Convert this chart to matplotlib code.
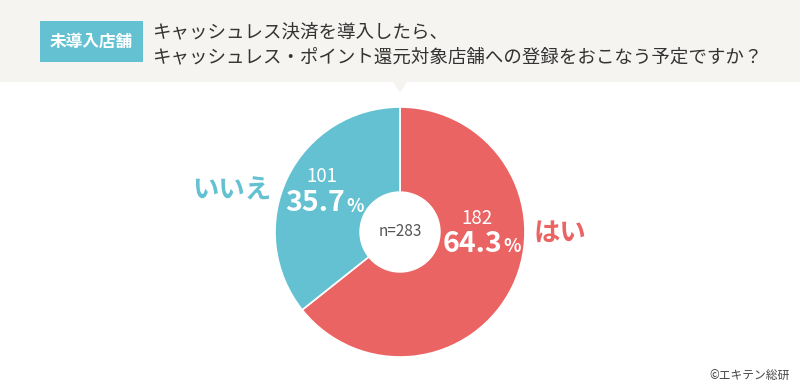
import matplotlib.pyplot as plt
from matplotlib.patches import Rectangle, Polygon, Circle

plt.rcParams['font.family'] = ['Noto Sans CJK JP', 'DejaVu Sans']

labels = ['はい', 'いいえ']
counts = [182, 101]
shares = [64.3, 35.7]
colors = ['#eb6464', '#64c1d1']
total = 283

badge = '未導入店舗'
title_lines = ['キャッシュレス決済を導入したら、',
               'キャッシュレス・ポイント還元対象店舗への登録をおこなう予定ですか？']
credit = '©エキテン総研'

W, H = 800, 384
fig = plt.figure(figsize=(W / 100, H / 100), dpi=100)
ax = fig.add_axes([0, 0, 1, 1])

# header band
ax.add_patch(Rectangle((0, H - 82), W, 82, color='#f5f4f1', lw=0, zorder=0))
ax.add_patch(Polygon([[393, H - 82], [407, H - 82], [400, H - 93]],
                     closed=True, color='#f5f4f1', lw=0, zorder=0))
ax.add_patch(Rectangle((40, H - 62), 103, 41, color=colors[1], lw=0, zorder=1))
ax.text(91.5, H - 41.5, badge, color='white', fontsize=12, fontweight='bold',
        ha='center', va='center', zorder=2)
ax.text(152, H - 32, title_lines[0], color='#333333', fontsize=13.3,
        ha='left', va='center')
ax.text(152, H - 57, title_lines[1], color='#333333', fontsize=13.3,
        ha='left', va='center')

# donut
cx, cy, r = 400, H - 232, 125
ax.pie(shares, colors=colors, startangle=90, counterclock=False,
       center=(cx, cy), radius=r, frame=True,
       wedgeprops=dict(linewidth=1.2, edgecolor='white'))
ax.add_patch(Circle((cx, cy), 40, color='white', zorder=3))
ax.set_xlim(0, W)
ax.set_ylim(0, H)
ax.set_aspect('equal')
ax.axis('off')
ax.text(cx, cy, f'n={total}', color='#555555', fontsize=11,
        ha='center', va='center', zorder=4)

# value labels
ax.text(322, H - 177, str(counts[1]), color='white', fontsize=13.5,
        ha='center', va='center')
ax.text(345, H - 203, f'{shares[1]}', color='white', fontsize=20.5,
        fontweight='bold', ha='right', va='center')
ax.text(346, H - 206, '%', color='white', fontsize=13,
        fontweight='bold', ha='left', va='center')
ax.text(477, H - 219, str(counts[0]), color='white', fontsize=13.5,
        ha='center', va='center')
ax.text(502, H - 244, f'{shares[0]}', color='white', fontsize=20.5,
        fontweight='bold', ha='right', va='center')
ax.text(503, H - 247, '%', color='white', fontsize=13,
        fontweight='bold', ha='left', va='center')

# category labels
ax.text(232, H - 191, labels[1], color=colors[1], fontsize=19,
        fontweight='bold', ha='center', va='center')
ax.text(560, H - 233, labels[0], color=colors[0], fontsize=19,
        fontweight='bold', ha='center', va='center')

ax.text(790, H - 376, credit, color='#444444', fontsize=8.5,
        ha='right', va='center')

fig.savefig('out.png', dpi=100, facecolor='white')
